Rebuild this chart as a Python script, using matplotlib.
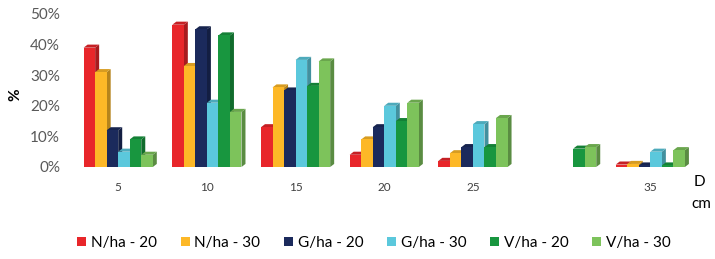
import matplotlib
matplotlib.use("Agg")
import matplotlib.pyplot as plt
from matplotlib.patches import Polygon
from matplotlib.colors import to_rgb
import numpy as np

plt.rcParams['font.family'] = ['Lato', 'DejaVu Sans']

categories = ["5", "10", "15", "20", "25", "", "35"]
series_names = ["N/ha - 20", "N/ha - 30", "G/ha - 20", "G/ha - 30", "V/ha - 20", "V/ha - 30"]
n_ha_20 = [39, 46.5, 13, 4, 2, 0, 0.8]
n_ha_30 = [31, 33, 26, 9, 4.5, 0, 1.0]
g_ha_20 = [12, 45, 25, 13, 6.5, 0, 0.5]
g_ha_30 = [5, 21, 35, 20, 14, 0, 5]
v_ha_20 = [9, 43, 26.5, 15, 6.5, 6, 0.5]
v_ha_30 = [4, 18, 34.5, 21, 16, 6.5, 5.5]
series = [n_ha_20, n_ha_30, g_ha_20, g_ha_30, v_ha_20, v_ha_30]
colors = ["#E8262A", "#FDB827", "#1B2A5C", "#5BC8DC", "#18963F", "#7DC35B"]

fig = plt.figure(figsize=(7.15, 2.59), dpi=100)
ax = fig.add_axes([65/715, (259-167)/259, (700-65)/715, (167-14)/259])

x = np.arange(len(categories))
w = 0.13
dx, dy = 0.045, 1.0

def shade(c, f):
    r, g, b = to_rgb(c)
    return (r*f, g*f, b*f)

z = 2
for gi in range(len(categories)):
    for si, (vals, col) in enumerate(zip(series, colors)):
        v = vals[gi]
        if v <= 0:
            continue
        x0 = x[gi] + (si - 2.5) * w - w/2
        x1 = x0 + w
        ax.add_patch(Polygon([[x1, 0], [x1 + dx, dy], [x1 + dx, v + dy], [x1, v]],
                             closed=True, facecolor=shade(col, 0.72), edgecolor='none', zorder=z))
        ax.add_patch(Polygon([[x0, v], [x0 + dx, v + dy], [x1 + dx, v + dy], [x1, v]],
                             closed=True, facecolor=shade(col, 0.85), edgecolor='none', zorder=z))
        ax.bar(x0 + w/2, v, width=w, color=col, zorder=z + 1, linewidth=0)
        z += 2

for si, (name, col) in enumerate(zip(series_names, colors)):
    ax.bar([np.nan], [np.nan], color=col, label=name)

ax.set_xlim(-0.6, 6.56)
ax.set_ylim(0, 50)
ax.set_yticks([0, 10, 20, 30, 40, 50])
ax.set_yticklabels([f"{t}%" for t in [0, 10, 20, 30, 40, 50]], fontsize=11, color="#595959")
ax.set_xticks(x)
ax.set_xticklabels(categories, fontsize=8.5, color="#404040")
ax.tick_params(axis='both', length=0)
ax.tick_params(axis='x', pad=11)
for s in ax.spines.values():
    s.set_visible(False)

fig.text(15/715, 1 - 95/259, "%", rotation=90, fontsize=11, fontweight='bold', ha='center', va='center')
fig.text(699/715, 1 - 182/259, "D", fontsize=11, ha='center', va='center')
fig.text(701/715, 1 - 204/259, "cm", fontsize=11, ha='center', va='center')

fig.legend(loc='center', bbox_to_anchor=(374/715, 1 - 243/259), ncol=6, frameon=False,
           fontsize=11, handlelength=0.6, handleheight=0.6, handletextpad=0.3,
           columnspacing=1.55, borderaxespad=0)

fig.savefig("out.png", dpi=100)
